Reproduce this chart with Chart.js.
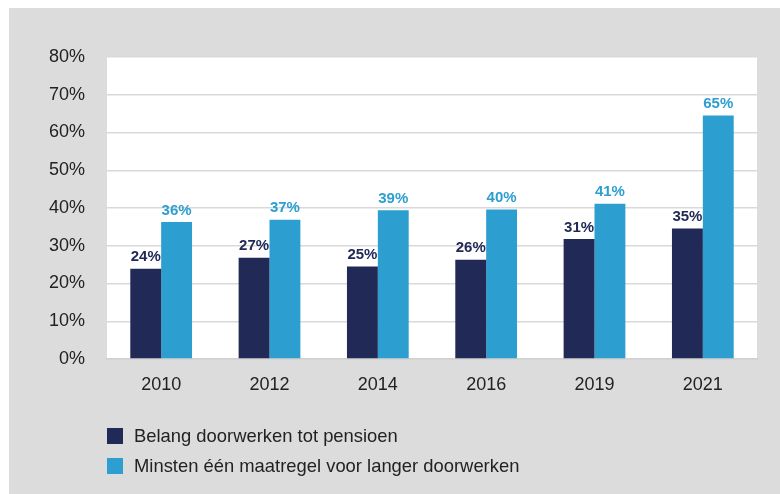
<!DOCTYPE html>
<html>
<head>
<meta charset="utf-8">
<script src="https://cdn.jsdelivr.net/npm/chart.js@4.4.0/dist/chart.umd.min.js"></script>
<style>
  html, body { margin: 0; padding: 0; background: #fff; }
  #wrap { position: absolute; left: 9px; top: 8px; width: 771px; height: 486px; background: #dcdcdc; }
  #box { position: absolute; left: 0; top: 0; width: 780px; height: 494px; }
  #legend { position: absolute; left: 107px; top: 421px; font-family: "Liberation Sans", Arial, sans-serif; font-size: 18.4px; color: #222; }
  #legend div { height: 30px; line-height: 20px; display: flex; align-items: center; }
  #legend span.sw { display: inline-block; width: 16px; height: 16px; margin-right: 11px; }
</style>
</head>
<body>
<div id="wrap"></div>
<div id="box"><canvas id="myChart" width="780" height="494"></canvas></div>
<div id="legend"></div>
<script>
const years = ['2010', '2012', '2014', '2016', '2019', '2021']
const belang = [23.9, 26.8, 24.5, 26.3, 31.8, 34.6]
const belangLabels = ['24%', '27%', '25%', '26%', '31%', '35%']
const maatregel = [36.3, 36.9, 39.4, 39.6, 41.1, 64.5]
const maatregelLabels = ['36%', '37%', '39%', '40%', '41%', '65%']
const tickValues = [0, 10, 20, 30, 40, 50, 60, 70, 80]

const DARK = '#212a57'
const LIGHT = '#2d9ed0'
const FONT = '"Liberation Sans", Arial, sans-serif'

// white plot area behind the bars
const plotBg = {
    id: 'plotBg',
    beforeDraw(chart) {
        const a = chart.chartArea
        chart.ctx.save()
        chart.ctx.fillStyle = '#fff'
        chart.ctx.fillRect(a.left, a.top, a.right - a.left, a.bottom - a.top)
        chart.ctx.restore()
    }
}

// value labels above each bar
const barLabels = {
    id: 'barLabels',
    afterDatasetsDraw(chart) {
        const ctx = chart.ctx
        ctx.save()
        ctx.font = 'bold 15px ' + FONT
        ctx.textAlign = 'center'
        ctx.textBaseline = 'bottom'
        chart.data.datasets.forEach((ds, i) => {
            chart.getDatasetMeta(i).data.forEach((bar, j) => {
                ctx.fillStyle = ds.backgroundColor
                ctx.fillText(ds.valueLabels[j], bar.x, bar.y - 4)
            })
        })
        ctx.restore()
    }
}

var ctx = document.getElementById('myChart').getContext('2d')
const chart = new Chart(ctx, {
    type: 'bar',
    data: {
        labels: years,
        datasets: [{
            label: 'Belang doorwerken tot pensioen',
            data: belang,
            valueLabels: belangLabels,
            backgroundColor: DARK
        },
        {
            label: 'Minsten één maatregel voor langer doorwerken',
            data: maatregel,
            valueLabels: maatregelLabels,
            backgroundColor: LIGHT
        }]
    },
    options: {
        responsive: false,
        animation: false,
        layout: { padding: { left: 0, top: 57, right: 23, bottom: 0 } },
        datasets: { bar: { categoryPercentage: 0.57, barPercentage: 1 } },
        plugins: { legend: { display: false }, tooltip: { enabled: false } },
        scales: {
            x: {
                afterFit(s) { s.height = 135 },
                grid: { display: false, drawTicks: false },
                border: { color: '#d0d0d0', width: 1.5 },
                ticks: { color: '#222', font: { family: FONT, size: 18 }, padding: 15 }
            },
            y: {
                min: 0,
                max: 80,
                afterFit(s) { s.width = 107 },
                afterBuildTicks(s) { s.ticks = tickValues.map(v => ({ value: v })) },
                grid: { color: '#d9d9d9', lineWidth: 1.5, drawTicks: false },
                border: { display: false },
                ticks: {
                    color: '#222',
                    font: { family: FONT, size: 18 },
                    padding: 22,
                    callback(value) { return value + '%' }
                }
            }
        }
    },
    plugins: [plotBg, barLabels]
})

const legend = document.getElementById('legend')
chart.data.datasets.forEach(ds => {
    const row = document.createElement('div')
    const sw = document.createElement('span')
    sw.className = 'sw'
    sw.style.background = ds.backgroundColor
    row.appendChild(sw)
    row.appendChild(document.createTextNode(ds.label))
    legend.appendChild(row)
})
</script>
</body>
</html>
